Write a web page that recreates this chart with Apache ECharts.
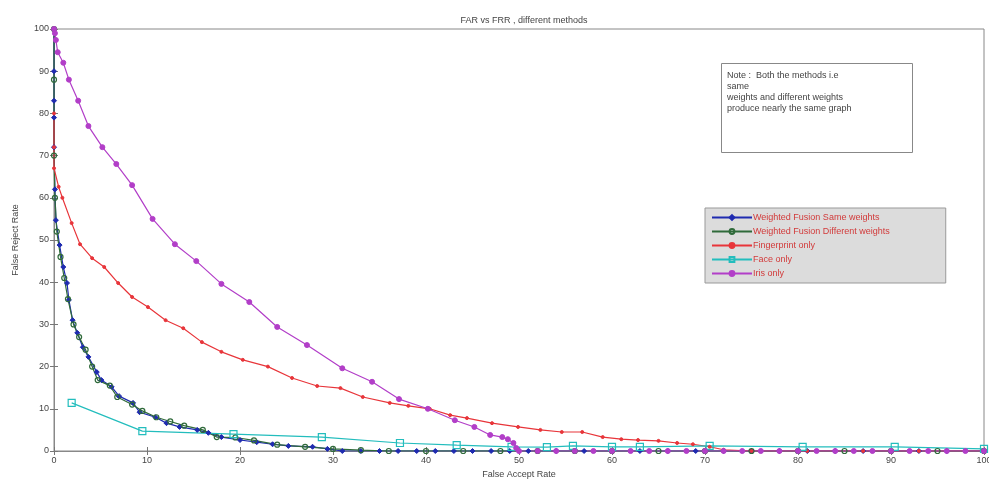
<!DOCTYPE html>
<html>
<head>
<meta charset="utf-8">
<script src="https://cdn.jsdelivr.net/npm/echarts@6/dist/echarts.min.js"></script>
<style>
  html, body { margin: 0; padding: 0; background: #fff; }
  #chart { width: 989px; height: 481px; }
</style>
</head>
<body>
<div id="chart"></div>
<script>
// values (FAR on x, FRR on y)
var seriesNames = ['Weighted Fusion Same weights', 'Weighted Fusion Different weights',
  'Fingerprint only', 'Face only', 'Iris only'];

var sameX = [0, 0, 0, 0, 0, 0.1, 0.2, 0.6, 1, 1.4, 1.6, 2, 2.5, 3.1, 3.7, 4.6, 5.1, 6.2, 7, 8.5, 9.2, 10.9, 12.1,
  13.5, 15.4, 16.6, 18, 20, 21.8, 23.5, 25.2, 27.8, 29.4, 31, 33, 35, 37, 39, 41, 43, 45, 47, 49, 51, 54, 57, 60,
  63, 66, 69, 72, 75, 78, 81, 84, 87, 90, 93, 96, 100];
var sameY = [100, 90, 83, 79, 72, 62, 54.7, 48.8, 43.6, 39.8, 35.8, 31, 28, 24.6, 22.3, 18.7, 16.8, 15.2, 13, 11.4,
  9.2, 8, 6.6, 5.7, 5, 4.3, 3.3, 2.6, 2.1, 1.6, 1.2, 1, 0.5, 0, 0, 0, 0, 0, 0, 0, 0, 0, 0, 0, 0, 0, 0, 0, 0, 0, 0,
  0, 0, 0, 0, 0, 0, 0, 0, 0];

var diffX = [0, 0, 0, 0.1, 0.3, 0.7, 1.1, 1.5, 2.1, 2.7, 3.4, 4.1, 4.7, 6, 6.8, 8.4, 9.5, 11, 12.5, 14, 16, 17.5,
  19.5, 21.5, 24, 27, 30, 33, 36, 40, 44, 48, 52, 56, 60, 65, 70, 75, 80, 85, 90, 95, 100];
var diffY = [100, 88, 70, 60, 52, 46, 41, 36, 30, 27, 24, 20, 16.8, 15.5, 12.8, 11, 9.5, 8, 7, 6, 5, 3.3, 3.2, 2.5,
  1.5, 1, 0.5, 0.2, 0, 0, 0, 0, 0, 0, 0, 0, 0, 0, 0, 0, 0, 0, 0];

var fingerX = [0, 0, 0, 0.5, 0.9, 1.9, 2.8, 4.1, 5.4, 6.9, 8.4, 10.1, 12, 13.9, 15.9, 18, 20.3, 23, 25.6, 28.3,
  30.8, 33.2, 36.1, 38.1, 40.4, 42.6, 44.4, 47.1, 49.9, 52.3, 54.6, 56.8, 59, 61, 62.8, 65, 67, 68.7, 70.5, 72,
  75, 78, 81, 84, 87, 90, 93, 96, 100];
var fingerY = [80, 72, 67, 62.6, 60, 54, 49, 45.7, 43.6, 39.8, 36.5, 34.1, 31, 29.1, 25.8, 23.5, 21.6, 20, 17.3,
  15.4, 14.9, 12.8, 11.4, 10.7, 10, 8.5, 7.8, 6.6, 5.7, 5, 4.5, 4.5, 3.3, 2.8, 2.6, 2.4, 1.9, 1.6, 1, 0.3, 0, 0,
  0, 0, 0, 0, 0, 0, 0];

var faceX = [1.9, 9.5, 19.3, 28.8, 37.2, 43.3, 49.2, 53, 55.8, 60, 63, 70.5, 80.5, 90.4, 100];
var faceY = [11.4, 4.7, 4, 3.3, 1.9, 1.4, 1, 0.9, 1.2, 1, 1, 1.2, 1, 1, 0.5];

var irisX = [0, 0.1, 0.2, 0.4, 1, 1.6, 2.6, 3.7, 5.2, 6.7, 8.4, 10.6, 13, 15.3, 18, 21, 24, 27.2, 31, 34.2, 37.1,
  40.2, 43.1, 45.2, 46.9, 48.2, 48.8, 49.4, 49.7, 50, 52, 54, 56, 58, 60, 62, 64, 66, 68, 70, 72, 74, 76, 78, 80,
  82, 84, 86, 88, 90, 92, 94, 96, 98, 100];
var irisY = [100, 99, 97.4, 94.5, 92, 88, 83, 77, 72, 68, 63, 55, 49, 45, 39.6, 35.3, 29.4, 25.1, 19.6, 16.4,
  12.3, 10, 7.3, 5.7, 3.8, 3.3, 2.8, 1.9, 0.7, 0, 0, 0, 0, 0, 0, 0, 0, 0, 0, 0, 0, 0, 0, 0, 0, 0, 0, 0, 0, 0, 0,
  0, 0, 0, 0];

var noteLines = ['Note :  Both the methods i.e', 'same', 'weights and different weights',
  'produce nearly the same graph'];

function pairs(xs, ys) {
  return xs.map(function (x, i) { return [x, ys[i]]; });
}

function lineSeries(name, xs, ys, color, symbol, size, hollow) {
  return {
    name: name,
    type: 'line',
    data: pairs(xs, ys),
    symbol: symbol,
    symbolSize: size,
    showAllSymbol: true,
    animation: false,
    lineStyle: { color: color, width: 1.2 },
    itemStyle: hollow
      ? { color: 'rgba(255,255,255,0)', borderColor: color, borderWidth: 1.2 }
      : { color: color, borderColor: color, borderWidth: 1 }
  };
}

var chart = echarts.init(document.getElementById('chart'));

var axisCommon = {
  type: 'value',
  min: 0,
  max: 100,
  interval: 10,
  nameTextStyle: { color: '#444', fontSize: 9, fontFamily: 'Liberation Sans' },
  axisLine: { show: true, lineStyle: { color: '#888' } },
  axisTick: { show: true, inside: true, length: 4, lineStyle: { color: '#777' } },
  axisLabel: { color: '#444', fontSize: 9, fontFamily: 'Liberation Sans' },
  splitLine: { show: false }
};

// box axes on top / right only carry the tick marks, like the MATLAB frame
var boxAxis = Object.assign({}, axisCommon, { axisLabel: { show: false } });

chart.setOption({
  backgroundColor: '#fff',
  title: {
    text: 'FAR vs FRR , different methods',
    left: 519,
    top: 11,
    textAlign: 'center',
    textStyle: { color: '#444', fontSize: 9, fontWeight: 'normal', fontFamily: 'Liberation Sans' }
  },
  grid: {
    left: 54, right: 5, top: 29, bottom: 30,
    outerBoundsMode: 'none', containLabel: false,
    show: true, borderColor: '#888', borderWidth: 1
  },
  xAxis: [
    Object.assign({}, axisCommon, {
      name: 'False Accept Rate',
      nameLocation: 'middle',
      nameGap: 19,
      axisLabel: Object.assign({}, axisCommon.axisLabel, { margin: 5 })
    }),
    Object.assign({}, boxAxis, { position: 'top' })
  ],
  yAxis: [
    Object.assign({}, axisCommon, {
      name: 'False Reject Rate',
      nameLocation: 'middle',
      nameGap: 34,
      axisLabel: Object.assign({}, axisCommon.axisLabel, { margin: 5 })
    }),
    Object.assign({}, boxAxis, { position: 'right' })
  ],
  legend: {
    orient: 'vertical',
    left: 705,
    top: 208,
    width: 240,
    padding: [5, 56, 5, 6],
    itemGap: 5,
    itemWidth: 40,
    itemHeight: 6,
    backgroundColor: '#dcdcdc',
    borderColor: '#999',
    borderWidth: 1,
    borderRadius: 0,
    textStyle: { color: '#d23a3a', fontSize: 9, fontFamily: 'Liberation Sans', padding: [0, 0, 0, -4] },
    data: seriesNames
  },
  graphic: [
    {
      type: 'rect',
      left: 721,
      top: 63,
      shape: { width: 191, height: 89 },
      style: { fill: '#fff', stroke: '#888', lineWidth: 1 },
      silent: true
    },
    {
      type: 'text',
      left: 727,
      top: 70,
      style: {
        text: noteLines.join('\n'),
        fill: '#444',
        fontSize: 9,
        lineHeight: 11,
        fontFamily: 'Liberation Sans'
      },
      silent: true
    }
  ],
  series: [
    lineSeries(seriesNames[0], sameX, sameY, '#1f2bb0', 'diamond', 5, false),
    lineSeries(seriesNames[1], diffX, diffY, '#2f6a3a', 'circle', 5, true),
    lineSeries(seriesNames[2], fingerX, fingerY, '#e8353a', 'circle', 3, false),
    lineSeries(seriesNames[3], faceX, faceY, '#23bdbd', 'rect', 7, true),
    lineSeries(seriesNames[4], irisX, irisY, '#b23ec8', 'circle', 5, false)
  ]
});
</script>
</body>
</html>
